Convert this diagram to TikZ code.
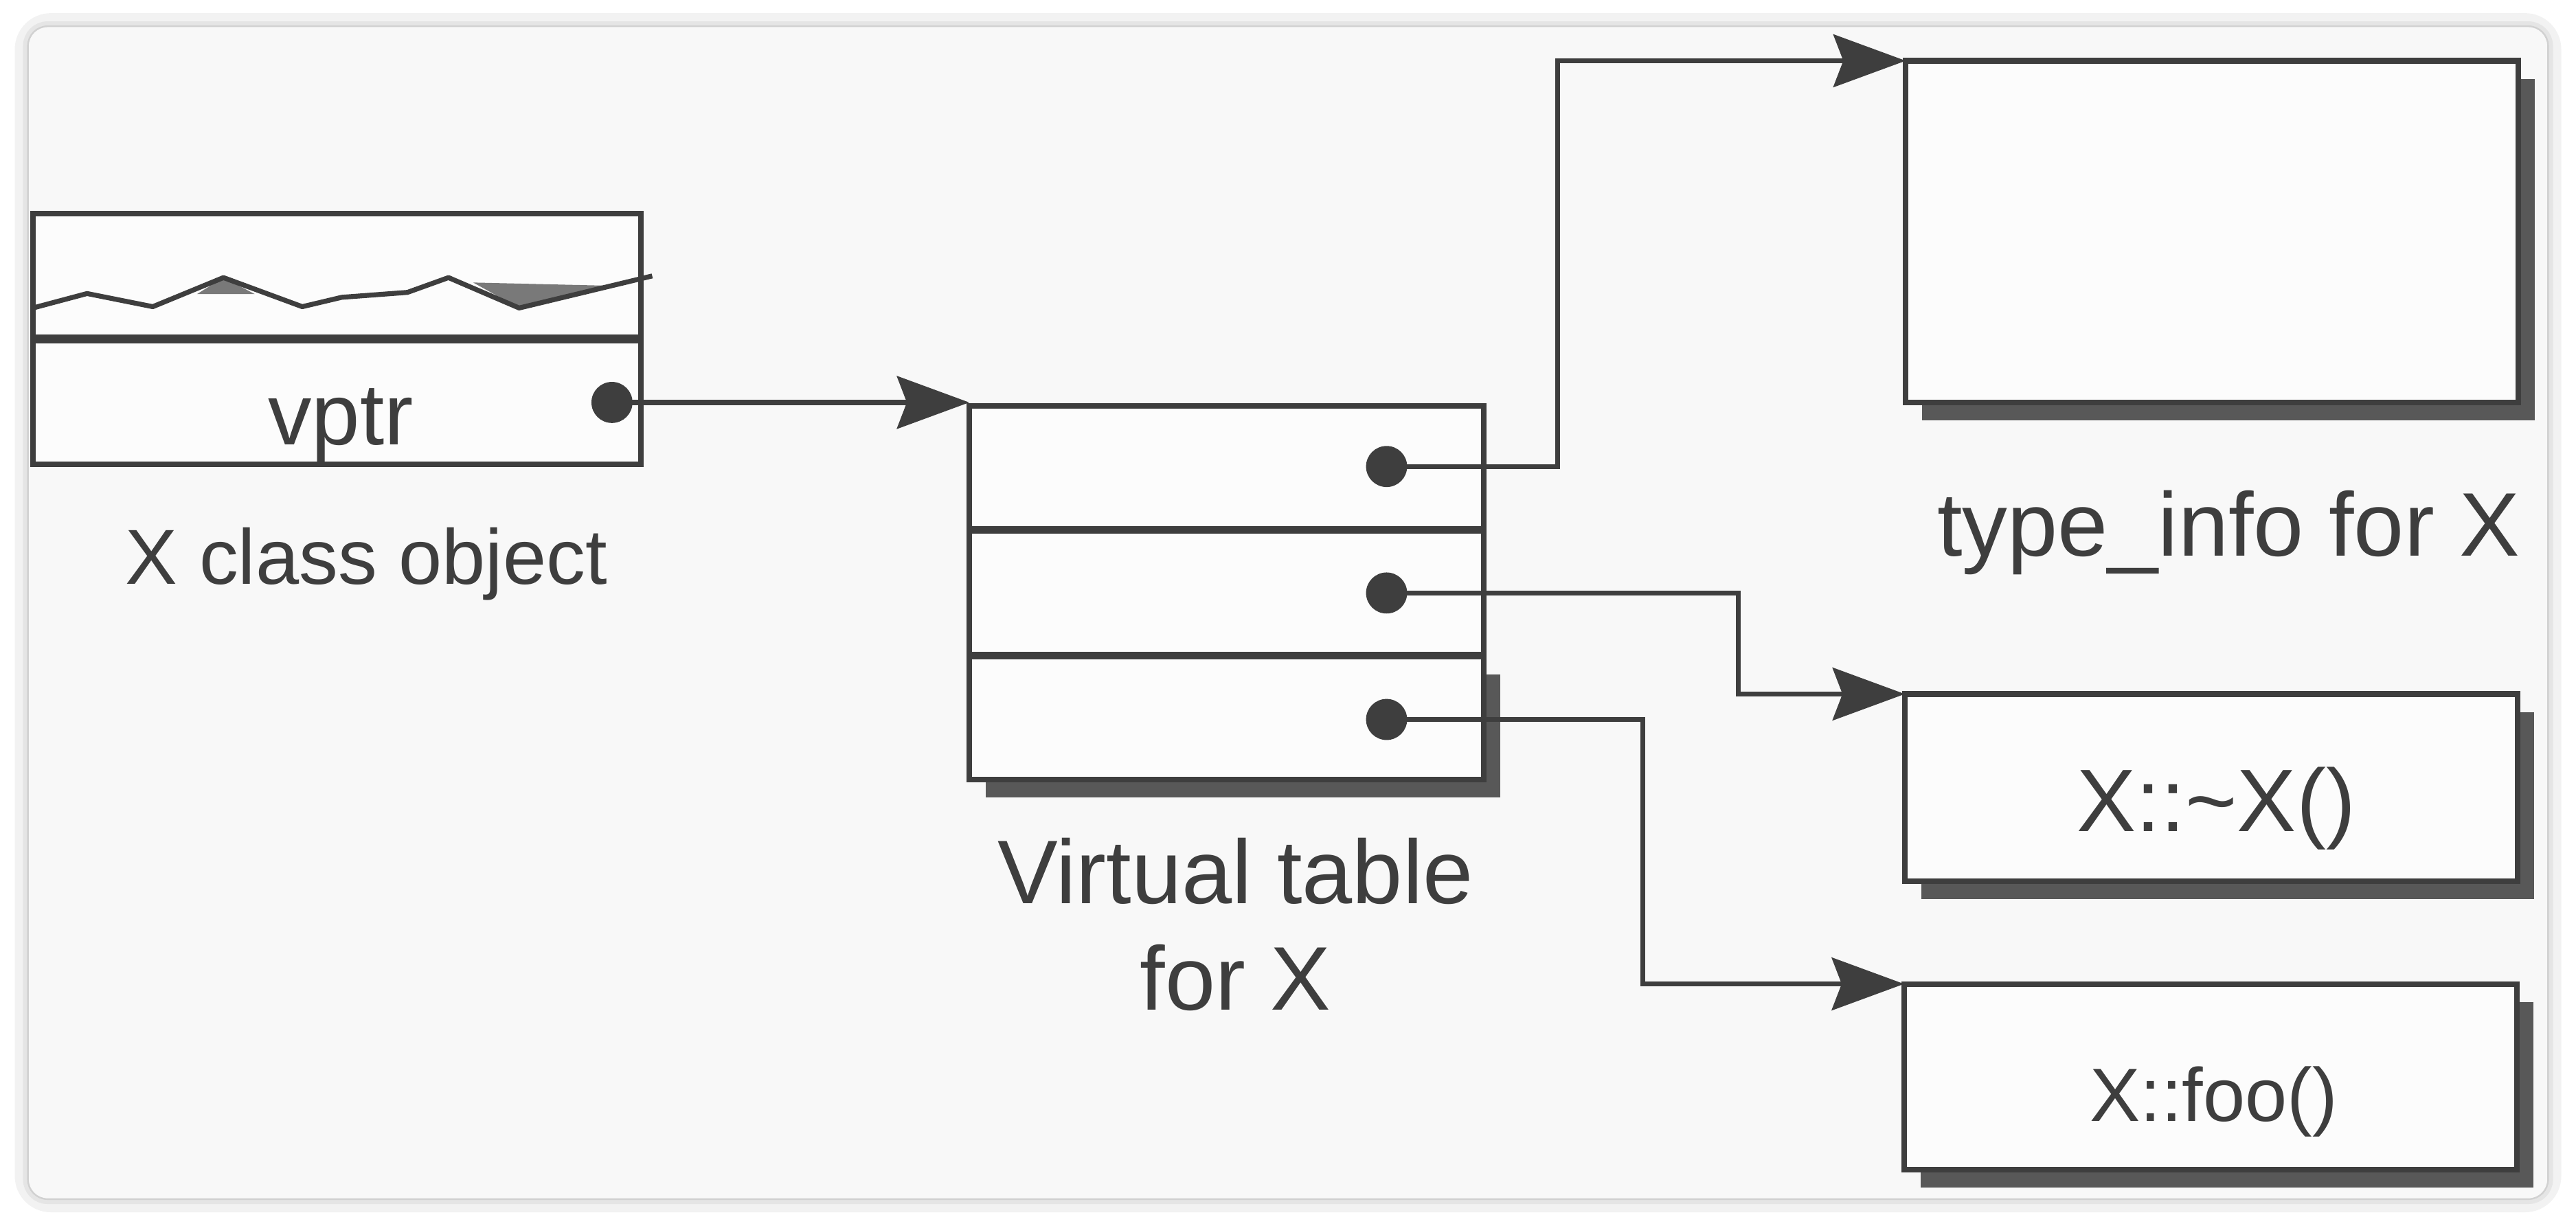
\documentclass[tikz,border=0pt]{standalone}
\usepackage{fontspec}
\setmainfont{Liberation Sans}
\usepackage{tikz}
\usetikzlibrary{arrows.meta,positioning,shadows}
\definecolor{inkgray}{RGB}{62,62,62}
\definecolor{shadegray}{RGB}{88,88,88}
\definecolor{cardbg}{RGB}{248,248,248}
\definecolor{boxbg}{RGB}{252,252,252}

\tikzset{
  cell/.style={draw=inkgray,line width=3.4pt,fill=boxbg,inner sep=0pt,outer sep=0pt},
  shaded/.style={drop shadow={shadow xshift=10pt,shadow yshift=-11pt,fill=shadegray,opacity=1}},
  ptr/.style={circle,fill=inkgray,minimum size=25pt,inner sep=0pt},
  link/.style={draw=inkgray,line width=3pt,->},
  lbl/.style={text=inkgray,inner sep=0pt,anchor=base},
}

\begin{document}
\begin{tikzpicture}[x=1pt,y=-1pt,>={Stealth[length=44pt,width=32pt,inset=6pt]}]
  \useasboundingbox (0,0) rectangle (1568,746);
  % card behind the figure
  \draw[black!5,line width=16pt,rounded corners=14pt] (17,16) rectangle (1551,730);
  \draw[black!10,line width=6pt,rounded corners=12pt] (17,16) rectangle (1551,730);
  \filldraw[fill=cardbg,draw=black!18,line width=1pt,rounded corners=12pt] (17,16) rectangle (1551,730);

  % X class object
  \node[cell,minimum width=370pt,minimum height=75.5pt,anchor=north west] (body) at (20,130) {};
  \node[cell,minimum width=370pt,minimum height=75.5pt,below=1.8pt of body] (vptr) {};
  \fill[shadegray!80] (120,179) -- (136,169) -- (155,179) -- cycle;
  \fill[shadegray!80] (288,172) -- (316,187.5) -- (373,174) -- cycle;
  \draw[inkgray,line width=3pt,line join=round] (20,187.5) -- (53,178.7) -- (93,186.7) -- (136,169)
    -- (184,186.7) -- (208,181) -- (248,178) -- (273,169) -- (316,187.5) -- (397,168);
  \node[lbl,font=\fontsize{53}{60}\selectfont] (vptrtxt) at (207.5,270.6) {vptr};
  \node[ptr] (p0) at (372.5,245) {};
  \node[lbl,font=\fontsize{47.5}{55}\selectfont] (objname) at (223,355.5) {X class object};

  % virtual table
  \node[cell,minimum width=313pt,minimum height=75pt,anchor=north west] (vt1) at (590,247) {};
  \node[cell,minimum width=313pt,minimum height=75pt,below=1.3pt of vt1] (vt2) {};
  \node[cell,shaded,minimum width=313pt,minimum height=75pt,below=1.3pt of vt2] (vt3) {};
  \node[ptr] (p1) at (844,284) {};
  \node[ptr] (p2) at (844,361) {};
  \node[ptr] (p3) at (844,438) {};
  \node[text=inkgray,inner sep=0pt,anchor=north,align=center,font=\fontsize{55}{65}\selectfont] (vtname) at (752,510) {Virtual table\\for X};

  % targets
  \node[cell,shaded,minimum width=373pt,minimum height=208pt] (tinfo) at (1346.5,141) {};
  \node[lbl,font=\fontsize{55}{65}\selectfont] (tinfotxt) at (1356.5,338.4) {type\_info for X};
  \node[cell,shaded,minimum width=373pt,minimum height=114pt] (dtor) at (1346,479.5) {};
  \node[lbl,font=\fontsize{54}{65}\selectfont] (dtortxt) at (1349,506) {X::\textasciitilde X()};
  \node[cell,shaded,minimum width=373pt,minimum height=113pt] (foo) at (1345.5,655.5) {};
  \node[lbl,font=\fontsize{46}{55}\selectfont] (footxt) at (1347.5,682.8) {X::foo()};

  % pointers
  \draw[link] (p0.center) -- (p0 -| vt1.west);
  \draw[link] (p1.center) -- ++(104,0) |- (tinfo.north west);
  \draw[link] (p2.center) -- ++(214,0) |- (dtor.north west);
  \draw[link] (p3.center) -- ++(156,0) |- (foo.north west);
\end{tikzpicture}
\end{document}
